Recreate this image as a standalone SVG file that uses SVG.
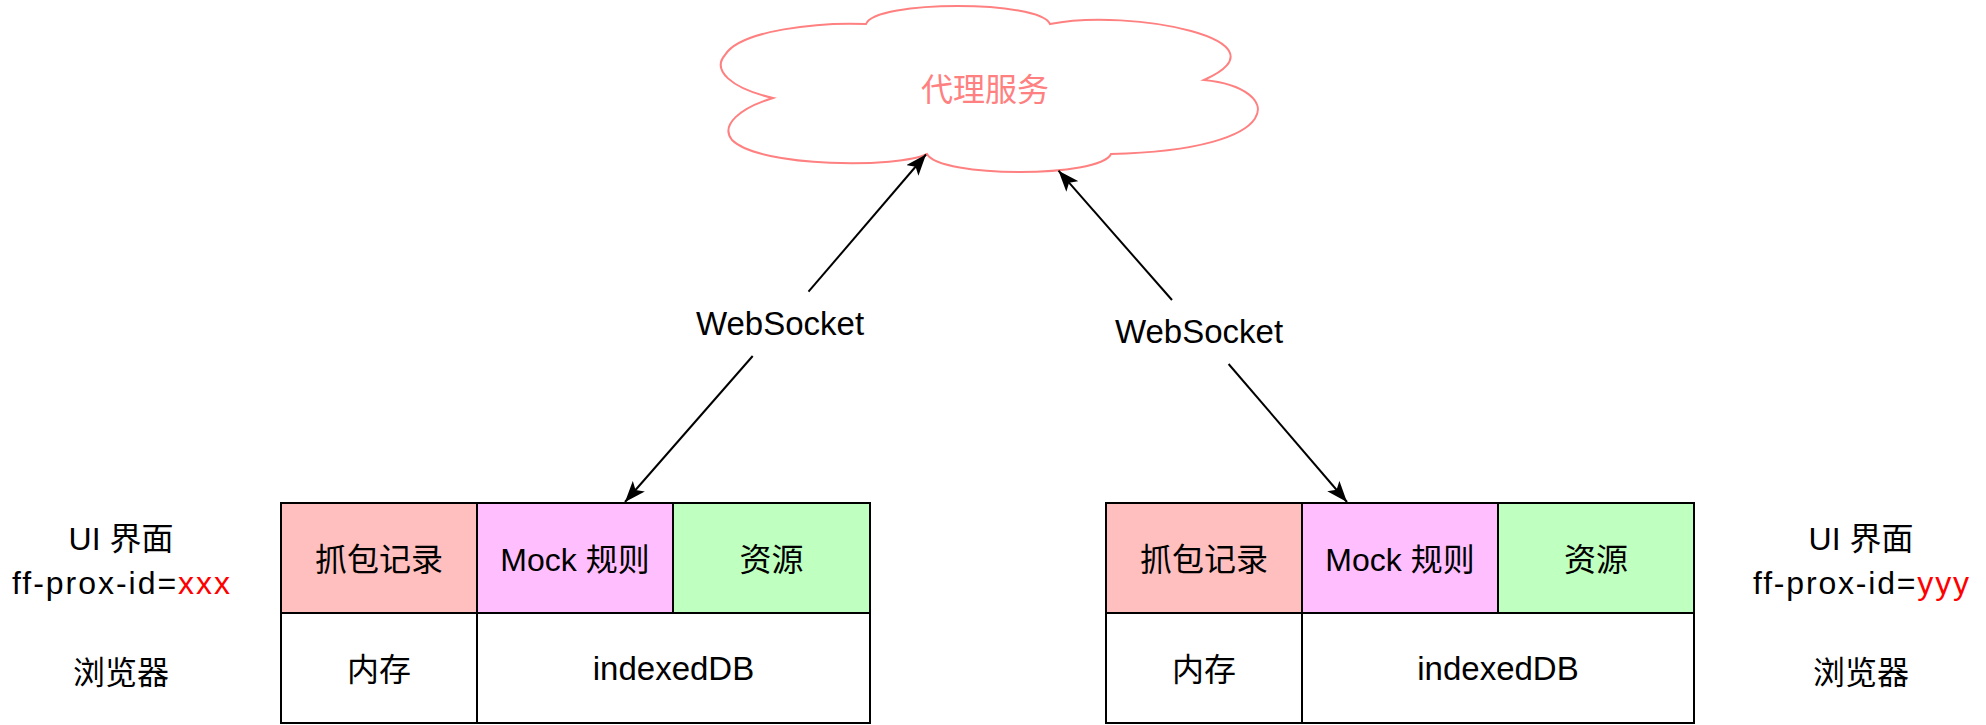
<svg xmlns="http://www.w3.org/2000/svg" width="1986" height="725" viewBox="0 0 1986 725">
<style>
text{font-family:"Liberation Sans","Noto Sans CJK SC",sans-serif;font-size:32px;fill:#000;text-anchor:middle}
.lat{font-size:33px}
.cell{stroke:#000;stroke-width:2}
.conn{stroke:#000;stroke-width:2;fill:none}
.red{fill:#FF0000}
</style>
<defs>
<marker id="arr" viewBox="0 0 21 16" refX="21" refY="8" markerWidth="21" markerHeight="16" markerUnits="userSpaceOnUse" orient="auto">
<path d="M0,0 L21,8 L0,16 L5,8 Z" fill="#000"/>
</marker>
</defs>
<rect width="1986" height="725" fill="#fff"/>
<g id="cloud">
<path d="M866 24 C875 0 1040 0 1050 24 C1130 8 1295 40 1204 80 C1285 88 1290 150 1111 154 C1100 178 940 178 927 154 C900 168 760 168 732 140 C720 125 740 108 773 98 C730 88 712 70 725 55 C740 30 820 22 866 24 Z" fill="#fff" stroke="#FF8080" stroke-width="2"/>
<text x="985" y="101" style="fill:#FF8080">代理服务</text>
</g>
<g id="connectors">
<line class="conn" x1="808.5" y1="291.7" x2="926" y2="154.5" marker-end="url(#arr)"/>
<line class="conn" x1="752.7" y1="356" x2="625" y2="502" marker-end="url(#arr)"/>
<line class="conn" x1="1172" y1="300" x2="1058.5" y2="170.7" marker-end="url(#arr)"/>
<line class="conn" x1="1228.6" y1="364" x2="1347" y2="502" marker-end="url(#arr)"/>
<text class="lat" x="780" y="335">WebSocket</text>
<text class="lat" x="1199" y="343">WebSocket</text>
</g>
<g id="left-labels">
<text x="121" y="550">UI 界面</text>
<text x="121" y="594" textLength="218" lengthAdjust="spacing">ff-prox-id=<tspan class="red">xxx</tspan></text>
<text x="121" y="684">浏览器</text>
</g>
<g id="left-browser">
<rect class="cell" x="281" y="503" width="196" height="110" fill="#FFBFBF"/>
<rect class="cell" x="477" y="503" width="196" height="110" fill="#FFBFFF"/>
<rect class="cell" x="673" y="503" width="197" height="110" fill="#BFFFBF"/>
<rect class="cell" x="281" y="613" width="196" height="110" fill="#fff"/>
<rect class="cell" x="477" y="613" width="393" height="110" fill="#fff"/>
<text x="379" y="571">抓包记录</text>
<text x="575" y="571">Mock 规则</text>
<text x="771.5" y="571">资源</text>
<text x="379" y="681">内存</text>
<text class="lat" x="673.5" y="680">indexedDB</text>
</g>
<g id="right-browser">
<rect class="cell" x="1106" y="503" width="196" height="110" fill="#FFBFBF"/>
<rect class="cell" x="1302" y="503" width="196" height="110" fill="#FFBFFF"/>
<rect class="cell" x="1498" y="503" width="196" height="110" fill="#BFFFBF"/>
<rect class="cell" x="1106" y="613" width="196" height="110" fill="#fff"/>
<rect class="cell" x="1302" y="613" width="392" height="110" fill="#fff"/>
<text x="1204" y="571">抓包记录</text>
<text x="1400" y="571">Mock 规则</text>
<text x="1596" y="571">资源</text>
<text x="1204" y="681">内存</text>
<text class="lat" x="1498" y="680">indexedDB</text>
</g>
<g id="right-labels">
<text x="1861" y="550">UI 界面</text>
<text x="1861" y="594" textLength="216" lengthAdjust="spacing">ff-prox-id=<tspan class="red">yyy</tspan></text>
<text x="1861" y="684">浏览器</text>
</g>
</svg>
